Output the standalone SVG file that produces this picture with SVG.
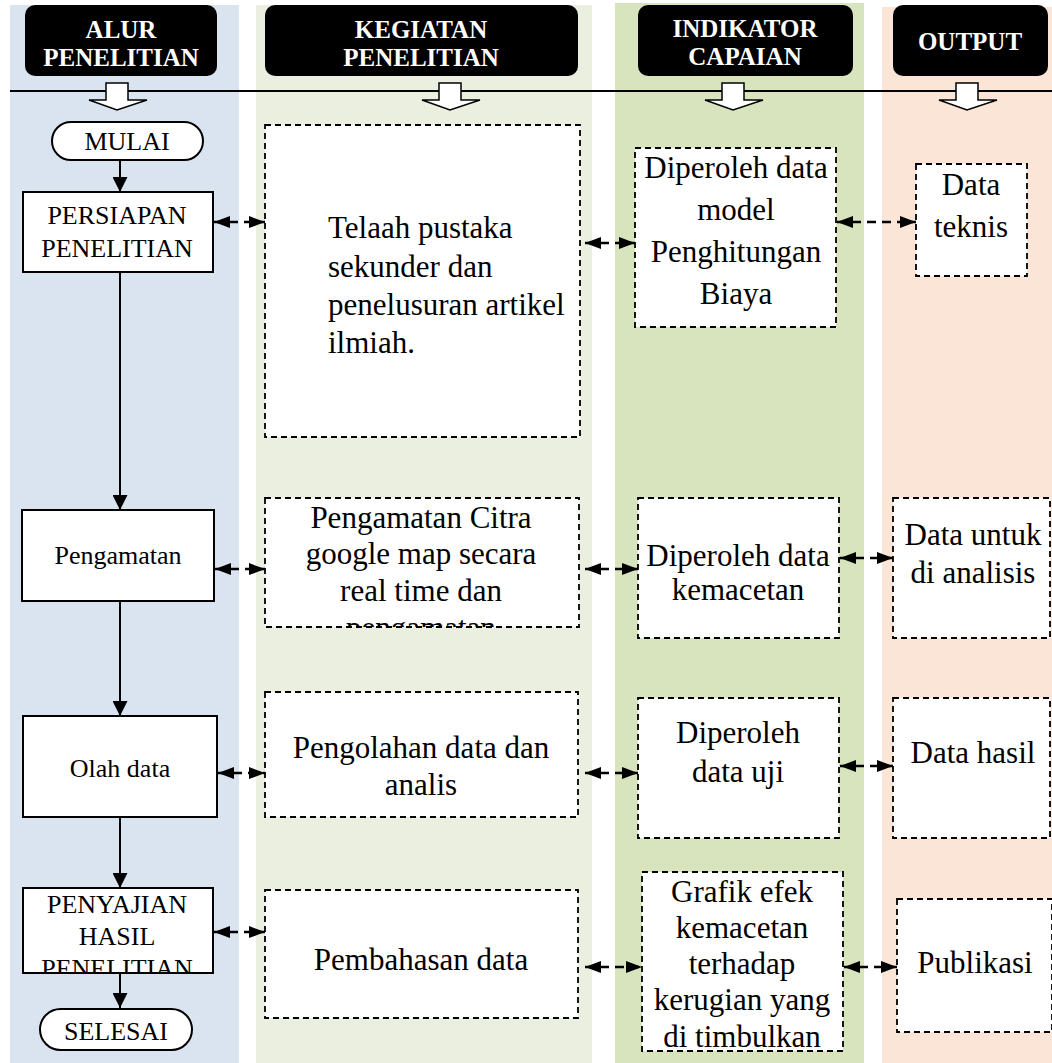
<svg xmlns="http://www.w3.org/2000/svg" width="1052" height="1063" viewBox="0 0 1052 1063">
<style>
  text { font-family: "Liberation Serif", "Times New Roman", serif; fill: #000; }
  .hdr { fill: #000; }
  .hdrt { fill: #fff; font-weight: bold; font-size: 25px; text-anchor: middle; }
  .flow { fill: #fff; stroke: #000; stroke-width: 2; }
  .ft { font-size: 26px; text-anchor: middle; }
  .dbox { fill: #fff; stroke: #000; stroke-width: 1.8; stroke-dasharray: 6 4; }
  .bt { font-size: 31px; text-anchor: middle; }
  .bl { font-size: 31px; }
  .solid { stroke: #000; stroke-width: 2; fill: none; }
  .bi { stroke: #000; stroke-width: 2.5; fill: none; stroke-dasharray: 9 6; }
  .blk { fill: #fff; stroke: #000; stroke-width: 1.5; }
</style>
<defs>
  <marker id="ah" viewBox="0 0 15 15" refX="15" refY="7.5" markerWidth="15" markerHeight="15" markerUnits="userSpaceOnUse" orient="auto">
    <path d="M0,0 L15,7.5 L0,15 Z" fill="#000"/>
  </marker>
  <marker id="bh" viewBox="0 0 16 12" refX="16" refY="6" markerWidth="16" markerHeight="12" markerUnits="userSpaceOnUse" orient="auto-start-reverse">
    <path d="M0,0 L16,6 L0,12 Z" fill="#000"/>
  </marker>
  <clipPath id="c-peng"><rect x="265" y="498" width="314" height="129"/></clipPath>
  <clipPath id="c-penyajian"><rect x="23" y="888" width="190" height="85"/></clipPath>
</defs>

<g id="columns">
  <rect x="10" y="5" width="229" height="1058" fill="#dae3f0"/>
  <rect x="256" y="5" width="336" height="1058" fill="#ebefdf"/>
  <rect x="615" y="3" width="249" height="1060" fill="#d7e4bd"/>
  <rect x="882" y="7" width="170" height="1056" fill="#fbe5d6"/>
</g>

<g id="headers">
  <g id="h-alur">
    <rect class="hdr" x="25" y="5" width="192" height="71" rx="10"/>
    <text class="hdrt" x="121" y="38">ALUR</text>
    <text class="hdrt" x="121" y="66">PENELITIAN</text>
  </g>
  <g id="h-kegiatan">
    <rect class="hdr" x="265" y="5" width="313" height="71" rx="10"/>
    <text class="hdrt" x="421" y="38">KEGIATAN</text>
    <text class="hdrt" x="421" y="66">PENELITIAN</text>
  </g>
  <g id="h-indikator">
    <rect class="hdr" x="638" y="5" width="215" height="71" rx="10"/>
    <text class="hdrt" x="745" y="37">INDIKATOR</text>
    <text class="hdrt" x="745" y="65">CAPAIAN</text>
  </g>
  <g id="h-output">
    <rect class="hdr" x="893" y="5" width="155" height="71" rx="10"/>
    <text class="hdrt" x="970" y="50">OUTPUT</text>
  </g>
</g>

<line x1="10" y1="91" x2="1052" y2="91" stroke="#000" stroke-width="2"/>

<g id="block-arrows">
  <polygon class="blk" points="106,83 128,83 128,100 147,100 117,110 89,100 106,100"/>
  <polygon class="blk" points="439,83 461,83 461,100 480,100 450,110 422,100 439,100"/>
  <polygon class="blk" points="722,83 744,83 744,100 763,100 733,110 705,100 722,100"/>
  <polygon class="blk" points="956,83 978,83 978,100 997,100 967,110 939,100 956,100"/>
</g>

<g id="connectors">
  <line class="solid" x1="120" y1="160" x2="120" y2="192" marker-end="url(#ah)"/>
  <line class="solid" x1="120" y1="272" x2="120" y2="510" marker-end="url(#ah)"/>
  <line class="solid" x1="120" y1="601" x2="120" y2="716" marker-end="url(#ah)"/>
  <line class="solid" x1="120" y1="817" x2="120" y2="888" marker-end="url(#ah)"/>
  <line class="solid" x1="120" y1="973" x2="120" y2="1008" marker-end="url(#ah)"/>

  <line class="bi" x1="214" y1="222" x2="265" y2="222" marker-start="url(#bh)" marker-end="url(#bh)"/>
  <line class="bi" x1="215" y1="569" x2="265" y2="569" marker-start="url(#bh)" marker-end="url(#bh)"/>
  <line class="bi" x1="218" y1="773" x2="265" y2="773" marker-start="url(#bh)" marker-end="url(#bh)"/>
  <line class="bi" x1="214" y1="932" x2="265" y2="932" marker-start="url(#bh)" marker-end="url(#bh)"/>

  <line class="bi" x1="585" y1="243" x2="635" y2="243" marker-start="url(#bh)" marker-end="url(#bh)"/>
  <line class="bi" x1="585" y1="569" x2="638" y2="569" marker-start="url(#bh)" marker-end="url(#bh)"/>
  <line class="bi" x1="585" y1="773" x2="638" y2="773" marker-start="url(#bh)" marker-end="url(#bh)"/>
  <line class="bi" x1="585" y1="967" x2="642" y2="967" marker-start="url(#bh)" marker-end="url(#bh)"/>

  <line class="bi" x1="837" y1="222" x2="916" y2="222" marker-start="url(#bh)" marker-end="url(#bh)"/>
  <line class="bi" x1="840" y1="558" x2="893" y2="558" marker-start="url(#bh)" marker-end="url(#bh)"/>
  <line class="bi" x1="840" y1="766" x2="893" y2="766" marker-start="url(#bh)" marker-end="url(#bh)"/>
  <line class="bi" x1="844" y1="967" x2="897" y2="967" marker-start="url(#bh)" marker-end="url(#bh)"/>
</g>

<g id="n-mulai">
  <rect class="flow" x="52" y="122" width="151" height="38" rx="19"/>
  <text class="ft" x="127" y="150">MULAI</text>
</g>
<g id="n-persiapan">
  <rect class="flow" x="23" y="192" width="190" height="80"/>
  <text class="ft" x="117" y="224">PERSIAPAN</text>
  <text class="ft" x="117" y="257">PENELITIAN</text>
</g>
<g id="n-pengamatan">
  <rect class="flow" x="22" y="510" width="192" height="91"/>
  <text class="ft" x="118" y="564">Pengamatan</text>
</g>
<g id="n-olah">
  <rect class="flow" x="23" y="716" width="194" height="101"/>
  <text class="ft" x="120" y="777">Olah data</text>
</g>
<g id="n-penyajian">
  <rect class="flow" x="23" y="888" width="190" height="85"/>
  <g clip-path="url(#c-penyajian)">
    <text class="ft" x="117" y="913">PENYAJIAN</text>
    <text class="ft" x="117" y="945">HASIL</text>
    <text class="ft" x="117" y="977">PENELITIAN</text>
  </g>
</g>
<g id="n-selesai">
  <rect class="flow" x="40" y="1009" width="152" height="41" rx="20.5"/>
  <text class="ft" x="116" y="1040">SELESAI</text>
</g>

<g id="k-telaah">
  <rect class="dbox" x="265" y="125" width="315" height="312"/>
  <text class="bl" x="328" y="238">Telaah pustaka</text>
  <text class="bl" x="328" y="277">sekunder dan</text>
  <text class="bl" x="328" y="315">penelusuran artikel</text>
  <text class="bl" x="328" y="353">ilmiah.</text>
</g>
<g id="k-pengamatan">
  <rect class="dbox" x="265" y="498" width="314" height="129"/>
  <g clip-path="url(#c-peng)">
    <text class="bt" x="421" y="528">Pengamatan Citra</text>
    <text class="bt" x="421" y="564">google map secara</text>
    <text class="bt" x="421" y="601">real time dan</text>
    <text class="bt" x="421" y="638">pengamatan</text>
  </g>
</g>
<g id="k-pengolahan">
  <rect class="dbox" x="265" y="692" width="313" height="125"/>
  <text class="bt" x="421" y="758">Pengolahan data dan</text>
  <text class="bt" x="421" y="795">analis</text>
</g>
<g id="k-pembahasan">
  <rect class="dbox" x="265" y="890" width="313" height="128"/>
  <text class="bt" x="421" y="970">Pembahasan data</text>
</g>

<g id="i-model">
  <rect class="dbox" x="635" y="148" width="201" height="179"/>
  <text class="bt" x="736" y="178">Diperoleh data</text>
  <text class="bt" x="736" y="220">model</text>
  <text class="bt" x="736" y="262">Penghitungan</text>
  <text class="bt" x="736" y="304">Biaya</text>
</g>
<g id="i-kemacetan">
  <rect class="dbox" x="638" y="498" width="201" height="140"/>
  <text class="bt" x="738" y="566">Diperoleh data</text>
  <text class="bt" x="738" y="600">kemacetan</text>
</g>
<g id="i-uji">
  <rect class="dbox" x="638" y="698" width="201" height="140"/>
  <text class="bt" x="738" y="743">Diperoleh</text>
  <text class="bt" x="738" y="782">data uji</text>
</g>
<g id="i-grafik">
  <rect class="dbox" x="642" y="872" width="201" height="179"/>
  <text class="bt" x="742" y="902">Grafik efek</text>
  <text class="bt" x="742" y="938">kemacetan</text>
  <text class="bt" x="742" y="974">terhadap</text>
  <text class="bt" x="742" y="1010">kerugian yang</text>
  <text class="bt" x="742" y="1047">di timbulkan</text>
</g>

<g id="o-teknis">
  <rect class="dbox" x="916" y="164" width="111" height="112"/>
  <text class="bt" x="971" y="195">Data</text>
  <text class="bt" x="971" y="237">teknis</text>
</g>
<g id="o-analisis">
  <rect class="dbox" x="893" y="498" width="157" height="140"/>
  <text class="bt" x="973" y="545">Data untuk</text>
  <text class="bt" x="973" y="583">di analisis</text>
</g>
<g id="o-hasil">
  <rect class="dbox" x="893" y="698" width="157" height="140"/>
  <text class="bt" x="973" y="763">Data hasil</text>
</g>
<g id="o-publikasi">
  <rect class="dbox" x="897" y="899" width="155" height="133"/>
  <text class="bt" x="975" y="973">Publikasi</text>
</g>
</svg>
